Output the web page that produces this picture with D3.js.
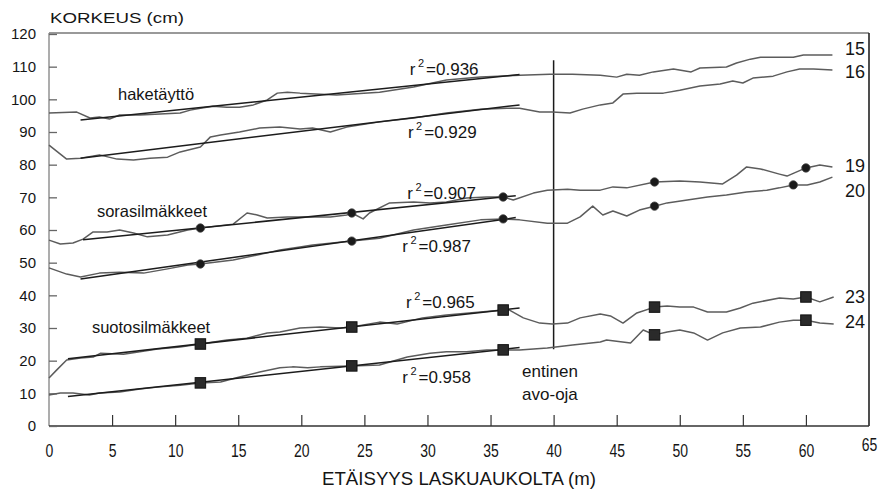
<!DOCTYPE html>
<html>
<head>
<meta charset="utf-8">
<script src="https://cdn.jsdelivr.net/npm/d3@7"></script>
<style>
  body { margin: 0; background: #fff; }
  svg { display: block; }
  text { font-family: "Liberation Sans", Arial, Helvetica, sans-serif; fill: #151515; }
</style>
</head>
<body>
<svg id="chart" width="889" height="490"></svg>
<script>
// Axis ticks
const distanceTicks = [0, 5, 10, 15, 20, 25, 30, 35, 40, 45, 50, 55, 60, 65];
const heightTicks = [0, 10, 20, 30, 40, 50, 60, 70, 80, 90, 100, 110, 120];

// Surface profiles: [distance m, height cm]
const profile15 = [[0,95.8],[2.2,96.1],[3.25,94.3],[4.0,94.6],[4.8,94.0],[5.6,95.2],[7.2,95.2],[8.8,95.5],[10.4,95.8],[11.2,96.7],[12.0,97.3],[13.0,97.9],[14.1,97.6],[15.1,97.6],[16.2,98.3],[17.3,99.8],[18.1,101.9],[18.9,102.2],[19.9,101.9],[22.8,101.3],[26.2,102.2],[28.9,103.8],[31.5,105.9],[34.2,106.8],[37.3,107.4],[39.7,107.7],[41.5,107.7],[43.7,107.4],[45.0,106.8],[45.8,107.7],[46.8,107.4],[47.9,108.4],[49.5,109.3],[50.9,108.4],[51.6,109.6],[53.7,109.9],[54.5,111.1],[55.6,112.3],[56.4,112.9],[57.4,112.9],[59.0,112.9],[59.8,113.6],[62.1,113.6]];
const profile16 = [[0,86.0],[1.4,81.7],[2.5,82.0],[4.0,83.0],[5.4,81.7],[6.7,81.4],[8.0,82.0],[9.4,82.3],[10.4,83.9],[12.0,85.4],[12.8,88.5],[13.6,89.1],[15.1,90.0],[16.7,91.2],[18.3,91.5],[19.9,90.9],[20.9,91.2],[22.3,90.0],[23.6,91.5],[26.2,93.1],[28.9,94.3],[31.5,95.8],[34.2,97.0],[36.3,97.3],[37.3,97.3],[38.9,96.1],[39.9,96.1],[41.3,95.8],[42.3,97.0],[43.7,98.3],[44.7,98.9],[45.5,101.6],[46.6,101.9],[48.7,101.9],[50.0,102.8],[51.6,104.1],[53.2,104.7],[54.2,105.6],[55.0,105.0],[55.8,106.5],[57.4,107.1],[58.5,108.4],[59.5,109.3],[60.6,109.3],[62.1,109.0]];
const profile19 = [[0,56.9],[0.9,55.7],[1.9,56.0],[2.7,57.2],[3.5,59.4],[4.6,59.4],[5.6,60.0],[6.7,59.1],[7.8,57.9],[9.4,58.5],[11.0,60.0],[12,60.6],[14.6,61.8],[15.7,65.2],[16.5,64.6],[17.3,63.7],[18.9,64.0],[20.9,64.0],[22.3,64.0],[23.6,64.6],[24,65.2],[24.9,63.4],[25.4,65.2],[27.0,68.3],[28.9,68.6],[30.2,68.3],[31.5,68.6],[33.1,69.8],[34.7,70.1],[36,70.1],[36.8,69.2],[38.4,71.3],[39.5,72.2],[41.1,72.5],[42.1,72.2],[43.7,72.2],[44.7,73.2],[45.8,72.9],[48,74.7],[50.0,75.0],[51.6,74.7],[53.4,74.1],[54.5,76.8],[55.3,79.3],[56.4,78.7],[57.9,77.1],[58.5,76.5],[60,79.0],[61.1,79.9],[62.1,79.3]];
const profile20 = [[0,48.4],[1.4,46.5],[2.5,45.6],[4.0,46.8],[5.6,47.1],[7.5,46.8],[9.4,48.1],[11.0,49.3],[12,49.6],[14.6,50.8],[17.3,53.0],[18.3,53.9],[19.9,54.8],[20.9,55.4],[24,56.6],[26.2,57.5],[28.9,60.0],[31.5,61.5],[34.2,63.1],[36,63.4],[37.3,63.1],[39.5,62.1],[41.1,62.1],[42.1,64.0],[43.1,67.3],[43.9,64.6],[44.7,65.8],[45.8,64.3],[46.8,66.1],[48,67.3],[49.0,68.3],[50.6,69.2],[52.2,70.1],[53.7,70.7],[55.3,71.6],[56.9,72.2],[57.9,72.9],[59,73.8],[60.1,73.8],[61.1,74.7],[62.1,76.2]];
const profile23 = [[0,14.7],[0.6,17.1],[1.4,20.2],[2.5,20.8],[3.5,21.1],[4.1,22.3],[5.9,22.0],[7.2,22.7],[8.6,23.6],[10.4,24.2],[12,25.1],[14.1,26.3],[15.7,26.9],[17.3,28.5],[18.3,28.8],[19.9,30.0],[21.5,30.3],[23.1,30.0],[24,30.3],[26.2,31.8],[27.6,31.2],[29.6,33.1],[31.5,34.0],[34.2,34.9],[36,35.5],[36.5,35.5],[37.6,33.1],[38.9,31.5],[39.9,31.2],[41.1,31.5],[42.1,33.1],[43.7,34.3],[44.5,33.7],[45.5,31.5],[46.6,34.6],[48,36.4],[49.0,36.7],[50.0,36.4],[51.1,36.4],[52.2,34.9],[53.7,34.9],[54.8,36.1],[55.8,37.6],[57.9,39.2],[59.0,38.9],[60,39.5],[61.1,38.0],[62.2,39.5]];
const profile24 = [[0,9.5],[0.9,10.1],[1.9,10.1],[3.2,9.5],[4.0,10.1],[5.6,10.4],[7.2,11.3],[8.6,11.9],[10.4,12.5],[12,13.2],[13.6,13.5],[15.1,15.0],[16.7,16.5],[18.3,17.8],[19.3,18.1],[20.5,17.8],[21.5,18.1],[24,18.4],[26.2,18.7],[28.4,21.1],[30.2,22.3],[31.5,22.7],[33.1,22.7],[34.7,23.3],[36,23.3],[37.3,23.3],[39.5,23.9],[41.5,24.8],[43.7,25.7],[44.2,26.3],[46.1,25.4],[47.1,29.4],[48,27.9],[49.0,28.8],[50.0,29.4],[51.1,28.5],[52.2,26.3],[53.4,28.5],[54.8,30.0],[56.4,30.3],[57.9,31.8],[59.0,32.4],[60,32.4],[61.1,31.5],[62.2,31.2]];

// Fitted regression lines (start and end of each fit)
const fit15 = [[2.5,93.7],[37.3,107.6]];
const fit16 = [[2.5,82.0],[37.3,98.3]];
const fit19 = [[2.7,57.0],[37.0,70.5]];
const fit20 = [[2.5,45.0],[37.0,63.8]];
const fit23 = [[1.5,20.6],[37.3,36.1]];
const fit24 = [[1.5,9.0],[37.3,24.0]];
const rSquared = ["0.936", "0.929", "0.907", "0.987", "0.965", "0.958"];

// Survey points on the gravel (circles) and bog (squares) profiles
const circles19 = [[12,60.6],[24,65.2],[36,70.1],[48,74.7],[60,79.0]];
const circles20 = [[12,49.6],[24,56.6],[36,63.4],[48,67.3],[59,73.8]];
const squares23 = [[12,25.1],[24,30.3],[36,35.5],[48,36.4],[60,39.5]];
const squares24 = [[12,13.2],[24,18.4],[36,23.3],[48,27.9],[60,32.4]];

const profileNames = ["15", "16", "19", "20", "23", "24"];
const groupNames = ["haketäyttö", "sorasilmäkkeet", "suotosilmäkkeet"];
const ditchPosition = 40;
const ditchSpan = [23.5, 112];
const ditchLabel = ["entinen", "avo-oja"];
const yTitle = "KORKEUS  (cm)";
const xTitle = "ETÄISYYS  LASKUAUKOLTA (m)";

const svg = d3.select("#chart");
const x = d3.scaleLinear().domain([0, 65]).range([49, 869]);
const y = d3.scaleLinear().domain([0, 120]).range([426, 34]);
const line = d3.line().x(d => x(d[0])).y(d => y(d[1]));

// Frame
svg.append("line").attr("x1", x(0)).attr("x2", x(65)).attr("y1", y(120) - 1).attr("y2", y(120) - 1)
  .attr("stroke", "#777").attr("stroke-width", 1.4);
svg.append("line").attr("x1", x(65)).attr("x2", x(65)).attr("y1", y(120) - 1).attr("y2", y(0))
  .attr("stroke", "#222").attr("stroke-width", 1.6);
svg.append("line").attr("x1", x(0)).attr("x2", x(0)).attr("y1", y(120) - 1).attr("y2", y(0))
  .attr("stroke", "#8a8a8a").attr("stroke-width", 1.4);
svg.append("line").attr("x1", x(0)).attr("x2", x(65)).attr("y1", y(0)).attr("y2", y(0))
  .attr("stroke", "#333").attr("stroke-width", 1.6);

// Y axis: ticks point inward
const yAxis = svg.append("g").attr("transform", `translate(${x(0)},0)`)
  .call(d3.axisLeft(y).tickValues(heightTicks).tickSize(-8).tickPadding(13));
yAxis.select(".domain").remove();
yAxis.selectAll(".tick line").attr("stroke", "#666").attr("stroke-width", 1.3);
yAxis.selectAll(".tick text").attr("font-size", 15).attr("fill", "#151515")
  .attr("font-family", "'Liberation Sans', Arial, sans-serif");

// X axis: ticks point upward, condensed labels
const xAxis = svg.append("g").attr("transform", `translate(0,${y(0)})`)
  .call(d3.axisBottom(x).tickValues(distanceTicks).tickSize(-11).tickPadding(0));
xAxis.select(".domain").remove();
xAxis.selectAll(".tick line").attr("stroke", "#333").attr("stroke-width", 1.2)
  .filter(d => d === 0 || d === 65).remove();
xAxis.selectAll(".tick text")
  .attr("font-size", 17.5).attr("fill", "#151515")
  .attr("font-family", "'Liberation Sans', Arial, sans-serif")
  .attr("dy", null)
  .attr("y", d => d === 65 ? 25 : 31)
  .attr("transform", "scale(0.8,1)");

// Axis titles
svg.append("text").attr("x", 50).attr("y", 23).attr("font-size", 15)
  .attr("textLength", 134).attr("lengthAdjust", "spacingAndGlyphs").text(yTitle);
svg.append("text").attr("x", (x(0) + x(65)) / 2).attr("y", 485).attr("font-size", 18)
  .attr("text-anchor", "middle").attr("textLength", 274).attr("lengthAdjust", "spacingAndGlyphs")
  .text(xTitle);

// Former open ditch
svg.append("line").attr("x1", x(ditchPosition)).attr("x2", x(ditchPosition))
  .attr("y1", y(ditchSpan[1])).attr("y2", y(ditchSpan[0]))
  .attr("stroke", "#1a1a1a").attr("stroke-width", 1.5);
svg.append("text").attr("x", x(37.5)).attr("y", y(15.0)).attr("font-size", 17).text(ditchLabel[0]);
svg.append("text").attr("x", x(37.5)).attr("y", y(8.0)).attr("font-size", 17).text(ditchLabel[1]);

// Measured profiles
const profiles = [profile15, profile16, profile19, profile20, profile23, profile24];
svg.append("g").selectAll("path").data(profiles).join("path")
  .attr("d", line).attr("fill", "none").attr("stroke", "#5c5c5c")
  .attr("stroke-width", 1.5).attr("stroke-linejoin", "round");

// Regression lines
const fits = [fit15, fit16, fit19, fit20, fit23, fit24];
svg.append("g").selectAll("path").data(fits).join("path")
  .attr("d", line).attr("fill", "none").attr("stroke", "#1c1c1c").attr("stroke-width", 1.5);

// Survey point markers
svg.append("g").selectAll("circle").data(circles19.concat(circles20)).join("circle")
  .attr("cx", d => x(d[0])).attr("cy", d => y(d[1])).attr("r", 4.2)
  .attr("fill", "#1a1a1a").attr("stroke", "#444").attr("stroke-width", 0.8);
const sq = 10.5;
svg.append("g").selectAll("rect").data(squares23.concat(squares24)).join("rect")
  .attr("x", d => x(d[0]) - sq / 2).attr("y", d => y(d[1]) - sq / 2)
  .attr("width", sq).attr("height", sq)
  .attr("fill", "#2a2a2a").attr("stroke", "#111").attr("stroke-width", 1);

// Coefficient of determination labels
const rPlacement = [[28.6, 107.4], [28.45, 88.2], [28.4, 69.5], [28.0, 53.3], [28.3, 36.1], [28.0, 13.2]];
rSquared.forEach((v, i) => {
  const t = svg.append("text").attr("x", x(rPlacement[i][0])).attr("y", y(rPlacement[i][1]))
    .attr("font-size", 17);
  t.append("tspan").text("r");
  t.append("tspan").attr("dx", 2.5).attr("dy", -8).attr("font-size", 11).text("2");
  t.append("tspan").attr("dx", 2).attr("dy", 8).text("=" + v);
});

// Group names
const groupPlacement = [[5.47, 99.8], [3.8, 64.0], [3.4, 28.5]];
groupNames.forEach((g, i) => {
  svg.append("text").attr("x", x(groupPlacement[i][0])).attr("y", y(groupPlacement[i][1]))
    .attr("font-size", 16.5).text(g);
});

// Profile numbers at the right end
const namePlacement = [113.6, 106.5, 77.7, 70.1, 37.6, 30.0];
profileNames.forEach((n, i) => {
  svg.append("text").attr("x", 845).attr("y", y(namePlacement[i])).attr("font-size", 18).text(n);
});
</script>
</body>
</html>
